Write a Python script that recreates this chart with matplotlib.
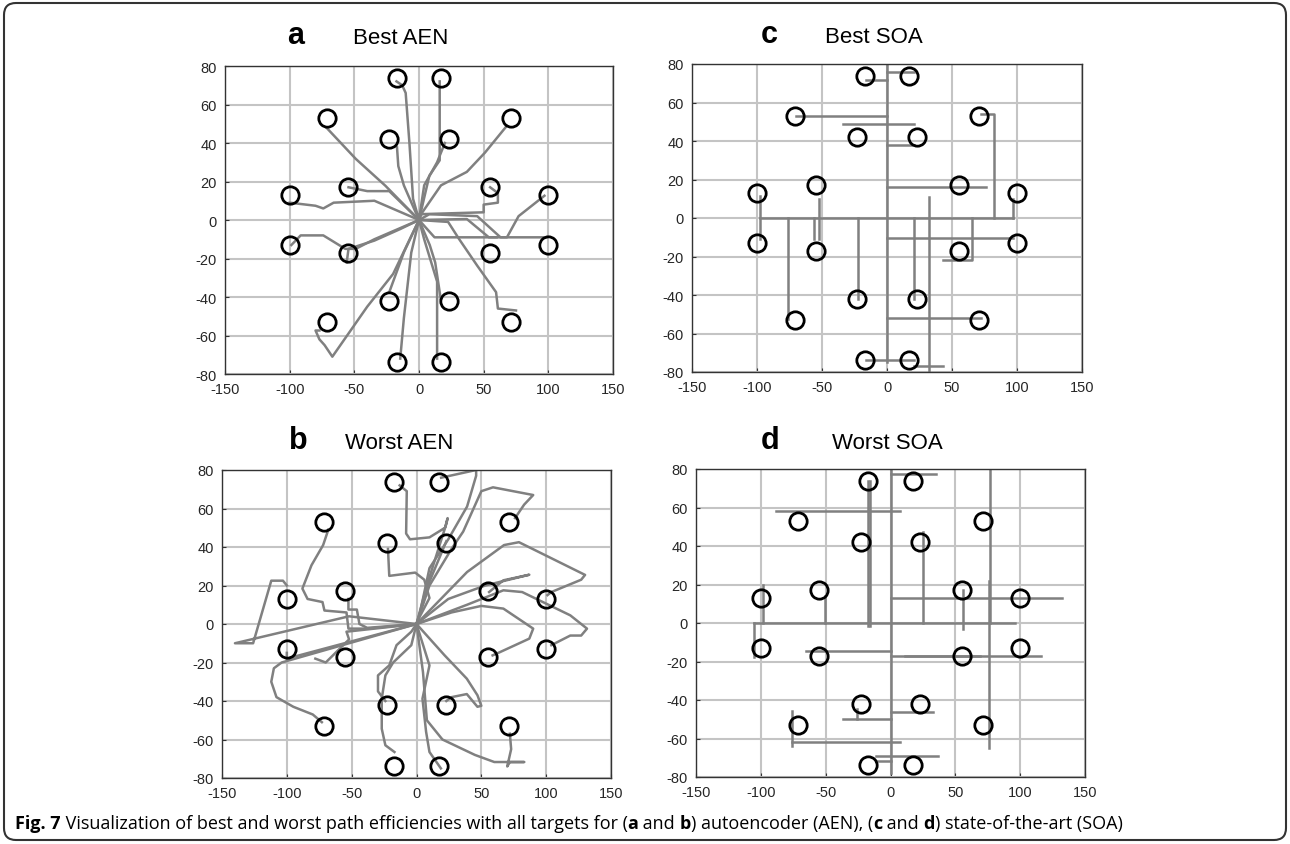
import matplotlib
matplotlib.use("Agg")
import matplotlib.pyplot as plt
from matplotlib.patches import FancyBboxPatch
from matplotlib.transforms import IdentityTransform

W, H = 1290, 845

# target circles (same for every panel)
target_x = [-17, 17, -71, 71, -23, 23, -55, 55, -100, 100,
            -100, 100, -55, 55, -23, 23, -71, 71, -17, 17]
target_y = [74, 74, 53, 53, 42, 42, 17, 17, 13, 13,
            -13, -13, -17, -17, -42, -42, -53, -53, -74, -74]

# cursor paths
best_aen = [
    [(0, 0), (-4.6, 11), (-7.4, 40), (-10.3, 66), (-13, 70), (-17.4, 72)],
    [(0, 0), (8, 23), (16, 31), (16, 72)],
    [(0, 0), (-26, 17.8), (-48.8, 31.7), (-71.6, 48)],
    [(0, 0), (2.6, 4), (17, 18), (37, 25), (51, 35), (68, 49)],
    [(0, 0), (-11.7, 18), (-16, 28), (-17, 37.7)],
    [(0, 0), (4, 18), (14, 30), (20, 40)],
    [(0, 0), (-23, 15), (-40, 15), (-54.5, 17)],
    [(0, 0), (-34.5, 10), (-66, 9), (-74, 6), (-80, 7.4), (-100, 9)],
    [(0, 0), (0, 3), (50, 4), (50, 8), (61, 9), (61, 14), (55, 17)],
    [(0, 0), (8, 3), (45, 2), (63, -9), (68, -9), (77, 2), (97, 12.6)],
    [(0, 0), (37, 0.5), (54, -9), (99, -9)],
    [(0, 0), (12, -9), (60, -9)],
    [(0, 0), (-34.5, -10), (-49, -15), (-57, -15), (-74, -8), (-91.5, -8), (-98.7, -13)],
    [(0, 0), (-14.5, -4.7), (-34.5, -10.7), (-54.5, -15), (-55.9, -22)],
    [(0, 0), (-11.7, -16.8), (-23, -37.5)],
    [(0, 0), (8.3, -13), (12.5, -22), (16.8, -41)],
    [(0, 0), (22.5, -1), (31, -9.9), (45, -23.7), (59.6, -37.5), (61, -46), (75, -47)],
    [(0, 0), (-20, -28), (-40, -45), (-67, -71), (-73, -65), (-77, -62), (-80, -57.4), (-77, -57.4)],
    [(0, 0), (-6, -17), (-11.7, -51), (-14.5, -72)],
    [(0, 0), (4, -10), (14, -32), (14, -72)],
]

worst_aen = [
    [(0, 0), (8, 20), (15, 35), (23, 52), (24, 55), (22, 50), (10, 45), (-5, 44),
     (-8, 47), (-7.5, 69), (-13, 72)],
    [(0, 0), (1.7, 2.8), (10, 29), (24.5, 44), (39, 61), (46, 77), (46, 80), (19, 76)],
    [(0, 0), (10, 20), (27, 39), (36, 48), (50, 69), (59, 71), (90, 67), (83, 62), (76, 55)],
    [(0, 0), (39, 27), (67.5, 41), (79, 42.5), (130, 25.5), (127, 23), (104, 16.6), (101, 15)],
    [(0, 0), (24.5, 13), (53, 20), (87, 25.6), (67, 22.7), (56, 16.6)],
    [(0, 0), (39, 10), (67, 17.5), (81.5, 16.6), (118.6, 4.5), (131.5, -2.4), (127, -6),
     (118.6, -6), (104, -11)],
    [(0, 0), (27, 6), (50, 9.4), (67, 8), (90, -2.4), (87, -7.6), (64.4, -14.6), (58.7, -16.3)],
    [(0, 0), (-52, 4), (-140, -10), (-126, -10), (-112, 22.5), (-103, 22.5), (-100, 20)],
    [(0, 0), (-38, -2.4), (-52.5, -2.4), (-54, 6), (-71, 7), (-72.5, 11.4), (-84, 13),
     (-88, 18.4), (-81, 30.5), (-72, 41), (-68, 49)],
    [(0, 0), (-38, -2), (-44, 0), (-46, 7.5), (-52.5, 7.5), (-52.5, 13)],
    [(0, 0), (-100, -18), (-100, -15)],
    [(0, 0), (-104, -20), (-110, -23), (-112, -30), (-108, -38), (-95, -43), (-80, -47), (-73, -51)],
    [(0, 0), (-54, -4), (-52, -8), (-64, -16), (-70, -20), (-78, -18)],
    [(0, 0), (-4, -4), (-15.4, -11), (-21, -21.5), (-29.7, -26.7), (-29.7, -35), (-24, -40)],
    [(0, 0), (-4, -11), (-18, -20), (-24, -26.7), (-26.8, -38.8), (-26.8, -54.4), (-24, -63),
     (-17, -66.5)],
    [(0, 0), (21.7, -16.3), (38.8, -28.4), (47, -37), (50, -42.5), (47, -43), (38.8, -36.4),
     (27, -38), (23, -40)],
    [(0, 0), (5, -25), (8, -50), (20, -60), (45, -68), (60, -71.7), (83, -71.7), (72, -71.7),
     (70, -74), (73, -65), (72, -57)],
    [(0, 0), (10, -21.5), (4.6, -38.8), (7.4, -56), (10, -66.5), (18.8, -75)],
    [(0, 0), (1.7, 2.8), (10, 13.5), (6, 23), (-1, 26.7), (-21, 25), (-22, 39)],
    [(0, 0), (10, 22), (23, 43)],
]

best_soa = [
    [(0, 80), (0, -75)],
    [(-98, 0), (97, 0)],
    [(-16.5, 71.5), (0, 71.5)],
    [(0, 76), (20.7, 76)],
    [(-70, 53), (0, 53)],
    [(-34, 49), (20.7, 49)],
    [(0, 38), (21, 38)],
    [(72, 54), (82, 54), (82, 0)],
    [(0, 16), (76, 16)],
    [(32, 11), (32, -80)],
    [(97, 0), (97, 10)],
    [(-98, 11.6), (-98, -11)],
    [(-52, 10), (-52, -11)],
    [(-56, 0), (-56, -11)],
    [(-76, 0), (-76, -52.5)],
    [(-22, 0), (-22, -42)],
    [(21, 0), (21, -42)],
    [(0, -10.6), (97, -10.6)],
    [(65, 0), (65, -22), (43, -22)],
    [(0, -52), (72, -52)],
    [(-16.5, -74), (20.7, -74)],
    [(20.7, -77), (43, -77)],
]

worst_soa = [
    [(0, 80), (0, -78)],
    [(-105.5, 0), (96.4, 0)],
    [(-105.5, 0), (-105.5, -17.8)],
    [(-98.6, 20), (-98.6, 0)],
    [(0, 77.3), (35, 77.3)],
    [(-17, 74), (-17, -1.4)],
    [(-16, 74), (-16, -1.4)],
    [(-88, 58.4), (7.4, 58.4)],
    [(77, 80), (77, 0)],
    [(25.3, 47.5), (25.3, 0)],
    [(-50.7, 14), (-50.7, 0)],
    [(75.8, 22), (75.8, -65)],
    [(56, 17), (56, -3)],
    [(0, 12.8), (132, 12.8)],
    [(-65, -14.7), (0, -14.7)],
    [(0, -17), (69, -17)],
    [(11, -17.3), (115.7, -17.3)],
    [(0, -46.4), (32.5, -46.4)],
    [(-36.4, -50), (0, -50)],
    [(-26, -44.7), (-26, -50)],
    [(-75.8, -45.6), (-75.8, -63.8)],
    [(-75.8, -62), (7.7, -62)],
    [(-11, -69), (37, -69)],
    [(-11, -71.6), (0, -71.6)],
]

x_ticks = [-150, -100, -50, 0, 50, 100, 150]
y_ticks = [-80, -60, -40, -20, 0, 20, 40, 60, 80]

panel_letters = ["a", "b", "c", "d"]
panel_titles = ["Best AEN", "Worst AEN", "Best SOA", "Worst SOA"]
panel_paths = [best_aen, worst_aen, best_soa, worst_soa]

caption = [("Fig. 7", "bold"),
           (" Visualization of best and worst path efficiencies with all targets for (", "normal"),
           ("a", "bold"), (" and ", "normal"), ("b", "bold"),
           (") autoencoder (AEN), (", "normal"),
           ("c", "bold"), (" and ", "normal"), ("d", "bold"),
           (") state-of-the-art (SOA)", "normal")]

# layout in pixels: axes box (left, top, right, bottom), letter x, title x, baseline y
boxes = [(225, 67, 613, 375), (222, 471, 611, 779), (692, 65, 1082, 373), (696, 470, 1085, 778)]
letter_x = [296, 298, 769, 770]
title_x = [353, 345, 825, 832]
title_y = [44, 449, 43, 449]

plt.rcParams['font.family'] = ['Liberation Sans', 'DejaVu Sans']
plt.rcParams['axes.unicode_minus'] = False

fig = plt.figure(figsize=(W / 100, H / 100), dpi=100)

for i in range(4):
    l, t, r, b = boxes[i]
    ax = fig.add_axes([l / W, 1 - b / H, (r - l) / W, (b - t) / H])
    for path in panel_paths[i]:
        xs = [p[0] for p in path]
        ys = [p[1] for p in path]
        ax.plot(xs, ys, color='#808080', lw=1.8, solid_joinstyle='round', zorder=2)
    ax.plot(target_x, target_y, 'o', ms=12.5, mfc='none', mec='black', mew=2, zorder=3)
    ax.set_xlim(-150, 150)
    ax.set_ylim(-80, 80)
    ax.set_xticks(x_ticks)
    ax.set_yticks(y_ticks)
    ax.grid(True, color='#c4c4c4', lw=1.5)
    ax.set_axisbelow(True)
    ax.tick_params(direction='in', length=3, color='#333333', labelsize=10.5,
                   labelcolor='#262626', pad=6)
    for s in ax.spines.values():
        s.set_color('#333333')
        s.set_linewidth(1.0)

    fig.text(letter_x[i] / W, 1 - title_y[i] / H, panel_letters[i], fontsize=22,
             fontweight='bold', ha='center', va='baseline')
    fig.text(title_x[i] / W, 1 - title_y[i] / H, panel_titles[i], fontsize=16,
             ha='left', va='baseline')

# caption, pieces placed one after the other
fig.canvas.draw()
renderer = fig.canvas.get_renderer()
x = 15
for s, w in caption:
    txt = fig.text(x / W, 1 - 829 / H, s, fontsize=13, fontweight=w,
                   family=['Open Sans', 'DejaVu Sans'], ha='left', va='baseline')
    x += txt.get_window_extent(renderer).width

frame = FancyBboxPatch((4, 4), W - 8, H - 8, boxstyle="round,pad=0,rounding_size=12",
                       transform=IdentityTransform(), fill=False, lw=1.5, ec='#333333')
fig.add_artist(frame)

fig.savefig('out.png', dpi=100)
